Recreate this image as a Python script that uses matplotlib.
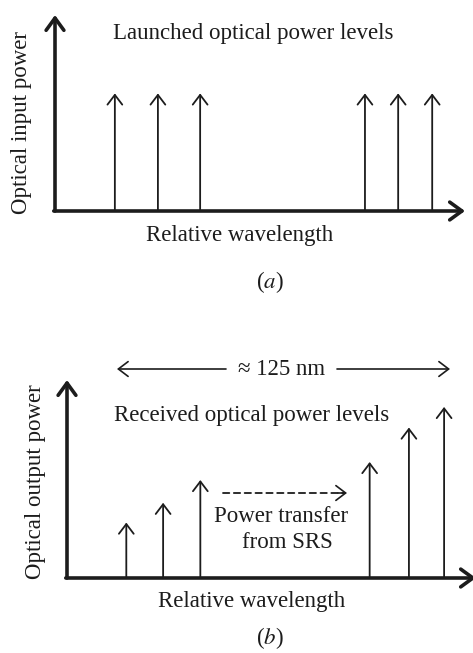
import matplotlib.pyplot as plt

# Relative wavelength positions (0-100 along each axis) and power levels (0-100)
launched_wavelength = [14.6, 25.1, 35.4, 75.6, 83.7, 92.0]
launched_power = [60, 60, 60, 60, 60, 60]

received_wavelength = [14.5, 23.5, 32.6, 74.0, 83.6, 92.2]
received_power = [28, 38, 49.5, 58.6, 76, 86.4]

W, H = 473, 653
plt.rcParams['font.family'] = ['Liberation Serif', 'DejaVu Serif']
plt.rcParams['mathtext.fontset'] = 'stix'
ink = '#1c1c1c'
fs = 16.5

fig = plt.figure(figsize=(W / 100, H / 100), dpi=100)


def px_text(x, y, s, **kw):
    fig.text(x / W, 1 - y / H, s, ha='center', va='center', color=ink, **kw)


def panel(left, bottom, right, top):
    ax = fig.add_axes([left / W, 1 - bottom / H, (right - left) / W, (bottom - top) / H])
    ax.set_xlim(0, 100)
    ax.set_ylim(0, 100)
    ax.axis('off')
    axis_arrow = dict(arrowstyle='->,head_length=0.55,head_width=0.4', lw=2.6,
                      color=ink, shrinkA=0, shrinkB=0, mutation_scale=16)
    ax.annotate('', xy=(0, 1), xytext=(0, 0), xycoords='axes fraction',
                arrowprops=axis_arrow, annotation_clip=False)
    ax.annotate('', xy=(1, 0), xytext=(-0.003, 0), xycoords='axes fraction',
                arrowprops=axis_arrow, annotation_clip=False)
    return ax


spike = dict(arrowstyle='->,head_length=0.5,head_width=0.38', lw=1.3,
             color=ink, shrinkA=0, shrinkB=0, mutation_scale=14)

# (a) launched
ax_a = panel(55, 211, 465, 15)
for x, p in zip(launched_wavelength, launched_power):
    ax_a.annotate('', xy=(x, p), xytext=(x, 0), arrowprops=spike)

px_text(253, 33, 'Launched optical power levels', fontsize=fs)
px_text(240, 235, 'Relative wavelength', fontsize=fs)
px_text(21, 122, 'Optical input power', fontsize=fs, rotation=90)
px_text(270, 282, '($a$)', fontsize=fs)

# (b) received
ax_b = panel(67, 578, 476, 380)
for x, p in zip(received_wavelength, received_power):
    ax_b.annotate('', xy=(x, p), xytext=(x, 0), arrowprops=spike)

span = dict(arrowstyle='->,head_length=0.5,head_width=0.38', lw=1.2,
            color=ink, shrinkA=0, shrinkB=0, mutation_scale=14)
ax_b.annotate('', xy=(117 / W, 1 - 369 / H), xytext=(226 / W, 1 - 369 / H),
              xycoords='figure fraction', arrowprops=span)
ax_b.annotate('', xy=(450 / W, 1 - 369 / H), xytext=(337 / W, 1 - 369 / H),
              xycoords='figure fraction', arrowprops=span)
px_text(282, 369, '≈ 125 nm', fontsize=fs)

# dashed "power transfer" arrow: dashed shaft plus a solid head
ax_b.annotate('', xy=(344 / W, 1 - 493 / H), xytext=(223 / W, 1 - 493 / H),
              xycoords='figure fraction',
              arrowprops=dict(arrowstyle='-', lw=1.3, color=ink, shrinkA=0, shrinkB=0,
                              linestyle=(0, (3.5, 2.5))))
ax_b.annotate('', xy=(347 / W, 1 - 493 / H), xytext=(338 / W, 1 - 493 / H),
              xycoords='figure fraction', arrowprops=span)

px_text(252, 415, 'Received optical power levels', fontsize=fs)
px_text(281, 517, 'Power transfer', fontsize=fs)
px_text(287, 543, 'from SRS', fontsize=fs)
px_text(252, 601, 'Relative wavelength', fontsize=fs)
px_text(35, 482, 'Optical output power', fontsize=fs, rotation=90)
px_text(270, 638, '($b$)', fontsize=fs)

fig.savefig('out.png', dpi=100)
